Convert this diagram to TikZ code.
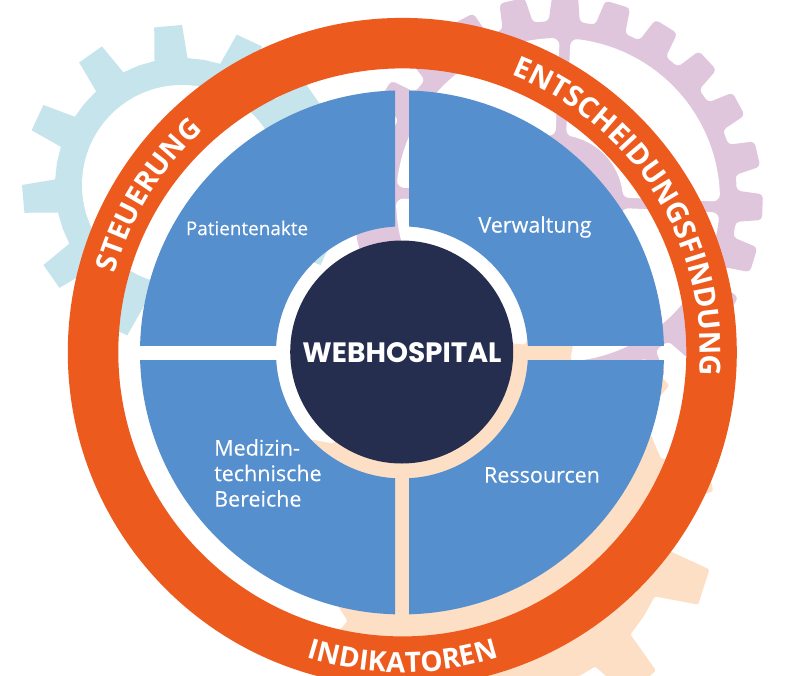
\documentclass[tikz,border=0pt]{standalone}
\usepackage{fontspec}
\usetikzlibrary{decorations.text}
\setmainfont{Open Sans}
\newfontfamily\popfont{Poppins}
\newfontfamily\lblfont{Open Sans}[FakeBold=0.15]
\definecolor{cOrange}{HTML}{EC5A1E}
\definecolor{cBlue}{HTML}{558FCE}
\definecolor{cNavy}{HTML}{262E4F}
\definecolor{cPeach}{HTML}{FCDFC5}
\definecolor{cLilac}{HTML}{E0C6DD}
\definecolor{cTeal}{HTML}{C5E4EC}
% cx cy n phase Rvalley Rtip halfBase halfTip style
\newcommand\gearfill[9]{%
  \fill[#9] ({#1+#5*cos(#4+180/#3)},{#2-#5*sin(#4+180/#3)})
  \foreach \k in {1,...,#3} {
    -- ({#1+#5*cos(#4+360/#3*\k-#7)},{#2-#5*sin(#4+360/#3*\k-#7)})
    -- ({#1+#6*cos(#4+360/#3*\k-#8)},{#2-#6*sin(#4+360/#3*\k-#8)})
    -- ({#1+#6*cos(#4+360/#3*\k+#8)},{#2-#6*sin(#4+360/#3*\k+#8)})
    -- ({#1+#5*cos(#4+360/#3*\k+#7)},{#2-#5*sin(#4+360/#3*\k+#7)})
    -- ({#1+#5*cos(#4+360/#3*\k+180/#3)},{#2-#5*sin(#4+360/#3*\k+180/#3)})
  } -- cycle;}
% lilac gear window: base angle
\newcommand\lilacwindow[1]{%
  \path[fill=white,draw=white,line width=14pt,line join=round]
    plot[domain=#1+4.6:#1+85.4,samples=30] ({558+155*cos(\x)},{200-155*sin(\x)})
    -- plot[domain=#1+80.2:#1+9.8,samples=20] ({558+72*cos(\x)},{200-72*sin(\x)}) -- cycle;}
\tikzset{
  lbl/.style={text=white,font=\lblfont\fontsize{21.5}{25.5}\selectfont,align=center,inner sep=0pt},
  curved/.style 2 args={decorate,decoration={text along path,text align={fit to path},text={|\fontsize{#1}{#1}\selectfont\bfseries\color{white}|#2}}}
}
\begin{document}
\begin{tikzpicture}[x=1pt,y=-1pt]
\useasboundingbox (0,0) rectangle (800,675);
\fill[white] (0,0) rectangle (800,675);
% gears
\gearfill{182}{185}{12}{5}{127}{160}{7.5}{5}{cTeal}
\fill[white] (182,185) circle[radius=100pt];
\gearfill{558}{200}{24}{-2}{179}{205}{5}{3.6}{cLilac,rounded corners=4pt}
\lilacwindow{-2.5}\lilacwindow{87.5}\lilacwindow{177.5}\lilacwindow{267.5}
\gearfill{494}{520}{12}{12.3}{178}{221}{7.7}{4.8}{cPeach,rounded corners=1.5pt}
% ring
\fill[cOrange,even odd rule] (402.3,352.4) circle[radius=334.5pt] (402.3,352.4) circle[radius=284pt];
% sectors
\foreach \xa/\ya/\xb/\yb/\nm in {100/50/395/345/a,409/50/700/345/b,100/360/395/650/c,409/360/700/650/d}{
  \begin{scope}
    \clip (\xa,\ya) rectangle (\xb,\yb);
    \fill[cBlue,even odd rule] (402,352.4) circle[radius=262pt] (402,352.4) circle[radius=126pt];
  \end{scope}
}
\node[circle,fill=cNavy,minimum size=223pt,inner sep=0pt] (hub) at (401.7,352) {};
\node[text=white,inner sep=0pt,font=\popfont\bfseries\fontsize{28}{28}\selectfont] (web) at (402,352.5) {WEBHOSPITAL};
\node[lbl,font=\lblfont\fontsize{18.9}{22}\selectfont] (pat) at (247,228) {Patientenakte};
\node[lbl] (ver) at (535,227) {Verwaltung};
\node[lbl,align=left,anchor=west] (med) at (214,473) {Medizin-\\technische\\Bereiche};
\node[lbl] (res) at (542,475) {Ressourcen};
% ring captions
\path[curved={28.5}{STEUERUNG}] plot[domain=164.6:132,samples=60] ({402.3+298*cos(\x)},{352.4-298*sin(\x)});
\path[curved={29}{ENTSCHEIDUNGSFINDUNG}] plot[domain=68.6:-2.9,samples=120] ({402.3+298*cos(\x)},{352.4-298*sin(\x)});
\path[curved={28}{INDIKATOREN}] plot[domain=252.6:287.3,samples=60] ({402.3+320*cos(\x)},{352.4-320*sin(\x)});
\end{tikzpicture}
\end{document}
